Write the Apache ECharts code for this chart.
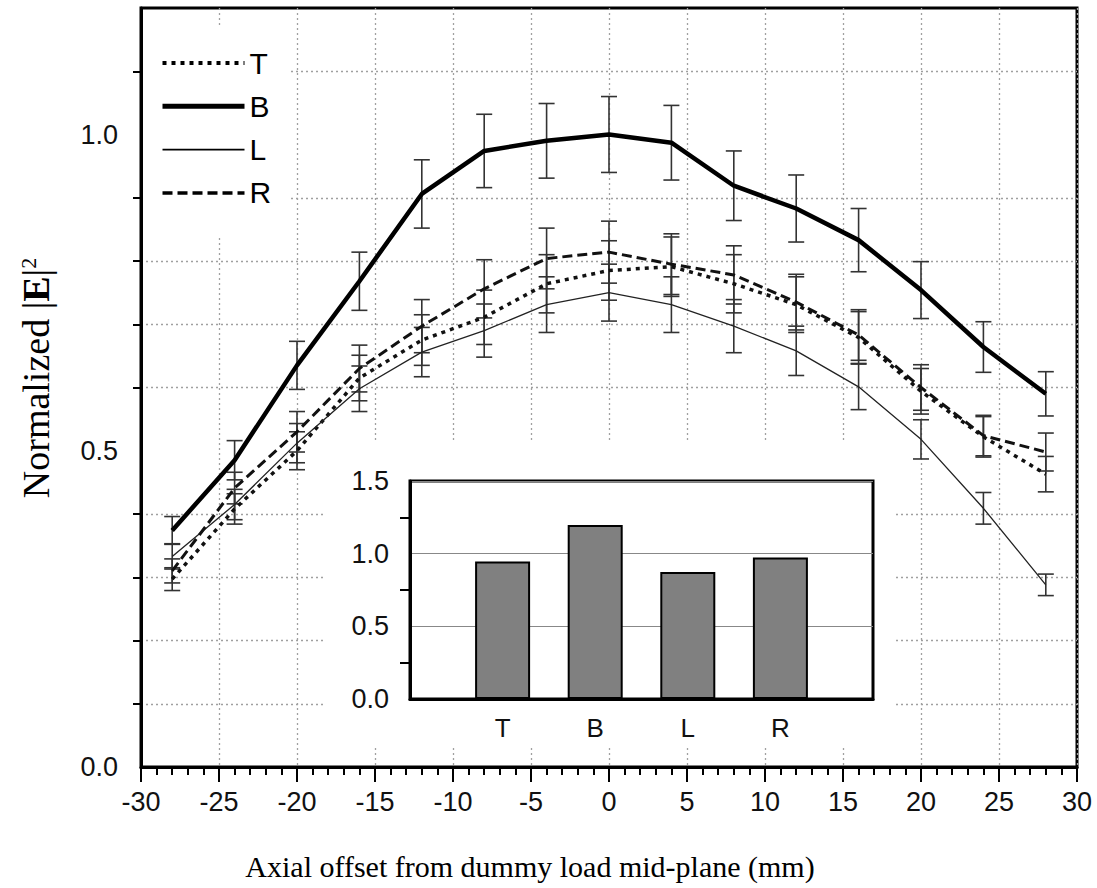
<!DOCTYPE html>
<html><head><meta charset="utf-8">
<script src="https://cdn.jsdelivr.net/npm/echarts@6/dist/echarts.min.js"></script>
<style>html,body{margin:0;padding:0;background:#fff}#c{width:1097px;height:888px}</style>
</head><body><div id="c"></div>
<script>
// ---- data ----
const offsets = [-28, -24, -20, -16, -12, -8, -4, 0, 4, 8, 12, 16, 20, 24, 28];
const seriesNames = ['T', 'B', 'L', 'R'];
const valT = [0.297, 0.408, 0.500, 0.615, 0.675, 0.711, 0.764, 0.785, 0.791, 0.764, 0.731, 0.679, 0.594, 0.522, 0.463];
const errT = [0.018, 0.024, 0.030, 0.036, 0.040, 0.043, 0.046, 0.047, 0.047, 0.046, 0.044, 0.041, 0.036, 0.032, 0.028];
const valB = [0.374, 0.485, 0.635, 0.768, 0.906, 0.974, 0.990, 1.000, 0.987, 0.919, 0.883, 0.833, 0.754, 0.664, 0.590];
const errB = [0.022, 0.031, 0.038, 0.046, 0.054, 0.058, 0.059, 0.060, 0.059, 0.055, 0.053, 0.050, 0.045, 0.040, 0.035];
const valL = [0.333, 0.415, 0.512, 0.598, 0.656, 0.690, 0.731, 0.750, 0.731, 0.697, 0.658, 0.601, 0.518, 0.409, 0.288];
const errL = [0.020, 0.024, 0.031, 0.036, 0.039, 0.042, 0.044, 0.045, 0.044, 0.042, 0.039, 0.036, 0.031, 0.025, 0.017];
const valR = [0.310, 0.441, 0.530, 0.630, 0.697, 0.756, 0.804, 0.814, 0.795, 0.778, 0.735, 0.683, 0.600, 0.524, 0.498];
const errR = [0.019, 0.025, 0.032, 0.037, 0.042, 0.046, 0.048, 0.049, 0.048, 0.046, 0.044, 0.040, 0.036, 0.032, 0.030];
const insetCategories = ['', 'T', 'B', 'L', 'R', ' '];
const insetValues = [null, 0.946, 1.198, 0.873, 0.973, null];
const mainYMajor = [0, 0.5, 1.0];
const mainYMinor = [0.1, 0.2, 0.3, 0.4, 0.6, 0.7, 0.8, 0.9, 1.1];
const xTitle = 'Axial offset from dummy load mid-plane (mm)';

// ---- styles ----
const SANS = '"Liberation Sans", Arial, sans-serif';
const SERIF = '"Liberation Serif", "Times New Roman", serif';
const lineStyles = {
  T: {color: '#111', width: 3.5, type: [4, 5]},
  B: {color: '#000', width: 4.5, type: 'solid'},
  L: {color: '#222', width: 1.3, type: 'solid'},
  R: {color: '#111', width: 3, type: [10, 5]}
};
const vals = {T: valT, B: valB, L: valL, R: valR};
const errs = {T: errT, B: errB, L: errL, R: errR};

function pairs(v) { return offsets.map((x, i) => [x, v[i]]); }
function errData(v, e) { return offsets.map((x, i) => [x, v[i] - e[i], v[i] + e[i]]); }

function renderErr(params, api) {
  const x = api.value(0);
  const lo = api.coord([x, api.value(1)]);
  const hi = api.coord([x, api.value(2)]);
  const hw = 8;
  const st = {stroke: '#333', lineWidth: 1.6};
  return {type: 'group', children: [
    {type: 'line', shape: {x1: hi[0], y1: hi[1], x2: lo[0], y2: lo[1]}, style: st},
    {type: 'line', shape: {x1: hi[0] - hw, y1: hi[1], x2: hi[0] + hw, y2: hi[1]}, style: st},
    {type: 'line', shape: {x1: lo[0] - hw, y1: lo[1], x2: lo[0] + hw, y2: lo[1]}, style: st}
  ]};
}

const series = [];
seriesNames.forEach(n => {
  series.push({
    name: n + ' err', type: 'custom', xAxisIndex: 0, yAxisIndex: 0,
    renderItem: renderErr, data: errData(vals[n], errs[n]), z: 2, silent: true
  });
});
seriesNames.forEach(n => {
  series.push({
    name: n, type: 'line', xAxisIndex: 0, yAxisIndex: 0, data: pairs(vals[n]),
    symbol: 'none', lineStyle: lineStyles[n], itemStyle: {color: lineStyles[n].color},
    z: 3, animation: false
  });
});
series.push({
  name: 'inset', type: 'bar', xAxisIndex: 1, yAxisIndex: 2, data: insetValues,
  barWidth: 55, itemStyle: {color: '#808080', borderColor: '#000', borderWidth: 2},
  z: 6
});

const dotted = {color: '#a0a0a0', width: 1.3, type: [2, 3]};
const hidden = {color: 'rgba(0,0,0,0)', borderColor: 'rgba(0,0,0,0)', borderWidth: 0, opacity: 0};

const option = {
  animation: false,
  backgroundColor: '#fff',
  grid: [
    {left: 141, right: 20, top: 8, bottom: 121, show: true, borderColor: '#000', borderWidth: 3},
    {left: 410, top: 481, width: 463, height: 218, show: true, borderColor: '#000', borderWidth: 3,
     backgroundColor: '#fff', z: 4}
  ],
  legend: {
    data: seriesNames.map(n => ({name: n,
      lineStyle: {width: lineStyles[n].width + 0.5, type: lineStyles[n].type, color: '#000'},
      itemStyle: hidden})),
    orient: 'vertical', left: 160, top: 48, padding: 0,
    itemWidth: 82, itemHeight: 20, itemGap: 13.3,
    itemStyle: hidden,
    textStyle: {fontFamily: SANS, fontSize: 30, color: '#000', lineHeight: 30},
    selectedMode: false, z: 6
  },
  xAxis: [
    {type: 'value', gridIndex: 0, min: -30, max: 30, interval: 5,
     axisLine: {onZero: false, lineStyle: {color: '#000', width: 3}},
     axisTick: {length: 15, lineStyle: {color: '#000', width: 2}},
     minorTick: {show: true, splitNumber: 5, length: 8, lineStyle: {color: '#000', width: 2}},
     axisLabel: {fontFamily: SANS, fontSize: 27, color: '#111', margin: 21},
     splitLine: {show: true, lineStyle: dotted}},
    {type: 'category', gridIndex: 1, data: insetCategories, boundaryGap: false, z: 5,
     axisLine: {lineStyle: {color: '#000', width: 3}},
     axisTick: {show: false},
     axisLabel: {interval: 0, fontFamily: SANS, fontSize: 26, color: '#111', margin: 16},
     splitLine: {show: false}}
  ],
  yAxis: [
    {type: 'value', gridIndex: 0, min: 0, max: 1.2, interval: 0.1, position: 'left',
     axisLine: {show: true, onZero: false, lineStyle: {color: '#000', width: 3}},
     axisTick: {length: 8, lineStyle: {color: '#000', width: 2}, customValues: mainYMinor},
     axisLabel: {show: false},
     splitLine: {show: true, lineStyle: dotted}},
    {type: 'value', gridIndex: 0, min: 0, max: 1.2, interval: 0.5, position: 'left',
     axisLine: {show: false},
     axisTick: {length: 14, lineStyle: {color: '#000', width: 2}, customValues: mainYMajor},
     axisLabel: {fontFamily: SANS, fontSize: 27, color: '#111', margin: 23,
       customValues: mainYMajor, formatter: v => v.toFixed(1)},
     splitLine: {show: false}},
    {type: 'value', gridIndex: 1, min: 0, max: 1.5, interval: 0.5, z: 5,
     axisLine: {show: true, lineStyle: {color: '#000', width: 3}},
     axisTick: {length: 10, lineStyle: {color: '#000', width: 2}},
     minorTick: {show: true, splitNumber: 2, length: 10, lineStyle: {color: '#000', width: 2}},
     axisLabel: {fontFamily: SANS, fontSize: 27, color: '#111', margin: 21, formatter: v => v.toFixed(1)},
     splitLine: {show: true, lineStyle: {color: '#888', width: 1}}}
  ],
  graphic: [
    {type: 'rect', shape: {x: 325, y: 443, width: 568, height: 305}, style: {fill: '#fff'}, z: 1, silent: true},
    {type: 'rect', shape: {x: 143, y: 25, width: 147, height: 210}, style: {fill: '#fff'}, z: 1, silent: true},
    {type: 'text', x: 530, y: 866, z: 5,
     style: {text: xTitle, fontFamily: SERIF, fontSize: 30, fill: '#000', align: 'center', verticalAlign: 'middle'}},
    {type: 'text', x: 36, y: 378, rotation: Math.PI / 2, z: 5,
     style: {text: '{n|Normalized |}{e|E}{n||}{s|2}', align: 'center', verticalAlign: 'middle', fill: '#000',
       rich: {
         n: {fontFamily: SERIF, fontSize: 38, fill: '#000'},
         e: {fontFamily: SERIF, fontSize: 38, fontWeight: 'bold', fill: '#000'},
         s: {fontFamily: SERIF, fontSize: 22, fill: '#000', verticalAlign: 'top'}
       }}}
  ],
  series: series
};

const chart = echarts.init(document.getElementById('c'), null, {renderer: 'svg'});
chart.setOption(option);
</script>
</body></html>
